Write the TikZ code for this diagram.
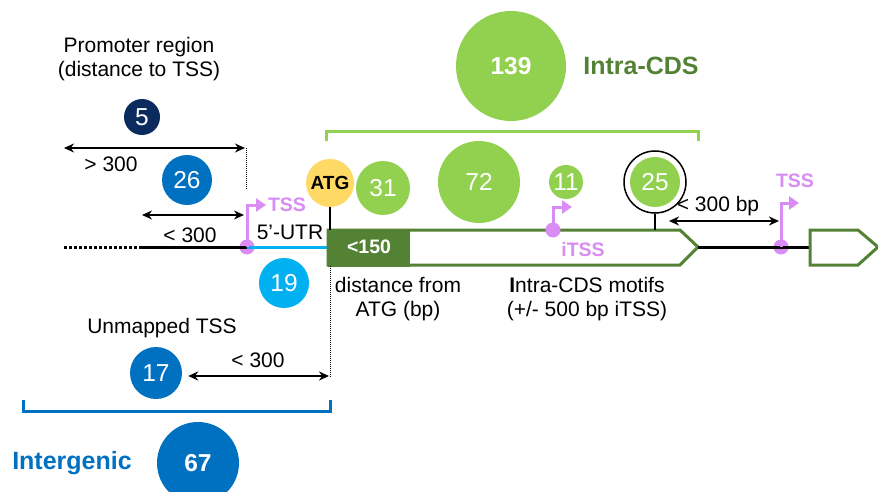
\documentclass[tikz,border=0pt]{standalone}
\usepackage{fontspec}
\setmainfont{Liberation Sans}
\usetikzlibrary{arrows.meta, positioning}

\definecolor{navy}{HTML}{0B2A5E}
\definecolor{midblue}{HTML}{0070C0}
\definecolor{skyblue}{HTML}{00B0F0}
\definecolor{leafgreen}{HTML}{92D050}
\definecolor{darkgreen}{HTML}{548235}
\definecolor{tsspink}{HTML}{D88CF4}
\definecolor{atgyellow}{HTML}{FFD966}

\tikzset{
  bubble/.style={circle, fill=#1, text=white, inner sep=0pt, font=\fontsize{24.5}{24}\selectfont},
  txt/.style={font=\fontsize{21}{24}\selectfont, align=center, inner sep=0pt},
  bigtxt/.style={font=\bfseries\fontsize{25}{25}\selectfont, inner sep=0pt},
  tsslbl/.style={text=tsspink, font=\bfseries\fontsize{19.5}{19}\selectfont, inner sep=0pt},
  dim/.style={{Stealth[length=10pt,width=9pt]}-{Stealth[length=10pt,width=9pt]}, line width=1.6pt},
  tssarrow/.style={tsspink, line width=3pt, -{Triangle[length=10pt,width=13pt]}},
  tssdot/.style={circle, fill=tsspink, minimum size=15pt, inner sep=0pt},
  guide/.style={densely dotted, line width=1pt},
  gene/.style={darkgreen, line width=3pt, fill=white, line join=miter},
}

\begin{document}
\begin{tikzpicture}[x=1pt, y=-1pt]
    \useasboundingbox (0,0) rectangle (878,492);

        % Promoter side
        \node[txt] at (139,59) (prom) {Promoter region\\(distance to TSS)};
        \node[bubble=navy, minimum size=36pt] at (142,117) (n5) {5};
        \node[bubble=midblue, minimum size=50pt] at (187,180) (n26) {26};
        \node[bubble=skyblue, minimum size=50pt] at (284,283) (n19) {19};

        % Genomic line
        \draw[line width=3pt, dotted] (64,247) -- (140,247);
        \coordinate (lineL) at (140,247);
        \node[tssdot] at (247,247) (tss1) {};
        \coordinate (cdsL) at (328,247);
        \draw[line width=3pt] (lineL) -- (tss1.center);
        \draw[skyblue, line width=3pt] (tss1.center) -- (cdsL);

        % Genes
        \draw[gene] (328,230) -- (680,230) -- (698,247) -- (680,265) -- (328,265) -- cycle;
        \fill[darkgreen] (328,228.5) rectangle (410,266.5);
        \node[font=\bfseries\fontsize{19.5}{19}\selectfont, text=white] at (369,247) (lt150) {<150};
        \coordinate (cdsTip) at (698,247);
        \coordinate (gene2L) at (810,247);
        \node[tssdot] at (781,247) (tss2) {};
        \draw[line width=3pt] (cdsTip) -- (tss2.center) -- (gene2L);
        \draw[gene] (810,230) -- (858,230) -- (878,247) -- (858,265) -- (810,265) -- cycle;

        % TSS marks
        \draw[tssarrow] (tss1.center) |- (266,205);
        \node[tsslbl] at (287,205) (tss1lbl) {TSS};
        \draw[tssarrow] (tss2.center) |- (799,203);
        \node[tsslbl] at (795,181) (tss2lbl) {TSS};
        \node[tssdot] at (553,230) (itss) {};
        \draw[tssarrow] (itss.center) |- (572,207);
        \node[tsslbl] at (583,250) (itsslbl) {iTSS};
        \node[txt] at (290,232) (utr) {5’-UTR};

        % ATG and intra-CDS counts
        \node[circle, fill=atgyellow, minimum size=48pt, inner sep=0pt,
              font=\bfseries\fontsize{19}{19}\selectfont] at (330,183) (atg) {ATG};
        \coordinate (atgFoot) at (330,230);
        \draw[line width=2.5pt] (atg.south) -- (atgFoot);
        \node[bubble=leafgreen, minimum size=54pt] at (383,188) (n31) {31};
        \node[bubble=leafgreen, minimum size=82pt] at (479,182) (n72) {72};
        \node[bubble=leafgreen, minimum size=34pt] at (566,182) (n11) {11};
        \node[circle, draw, line width=1.5pt, minimum size=62pt] at (655,182) (ring) {};
        \node[bubble=leafgreen, minimum size=50pt] at (655,182) (n25) {25};
        \coordinate (ringFoot) at (655,230);
        \draw[line width=1.2pt] (ring.south) -- (ringFoot);

        \node[bubble=leafgreen, minimum size=110pt, font=\bfseries\fontsize{24.5}{24}\selectfont] at (511,66) (n139) {139};
        \node[bigtxt, text=darkgreen] at (641,66) (intra) {Intra-CDS};
        \draw[leafgreen, line width=3pt] (326,141) -- (326,132) -- (698,132) -- (698,141);

        % Distances
        \coordinate (gt1) at (64,148);
        \coordinate (gt2) at (245,148);
        \draw[dim] (gt1) -- (gt2);
        \draw[guide] (246,148) -- (246,190);
        \node[txt] at (111,164) (gtlbl) {> 300};
        \coordinate (lt1) at (142,215);
        \coordinate (lt2) at (244,215);
        \draw[dim] (lt1) -- (lt2);
        \node[txt] at (190,235) (ltlbl) {< 300};
        \coordinate (bp1) at (669,221);
        \coordinate (bp2) at (779,221);
        \draw[dim] (bp1) -- (bp2);
        \node[txt] at (718,206) (bplbl) {< 300 bp};

        \node[txt] at (398,299) (atgdist) {distance from\\ATG (bp)};
        \node[txt] at (587,299) (motifs) {\textbf{I}ntra-CDS motifs\\(+/- 500 bp iTSS)};
        \draw[guide] (330,266) -- (330,378);

        % Unmapped and intergenic
        \node[txt] at (162,328) (unmap) {Unmapped TSS};
        \node[bubble=midblue, minimum size=52pt] at (156,373) (n17) {17};
        \coordinate (um2) at (329,376);
        \draw[dim] (n17.east) ++(6,3) coordinate (um1) (um1) -- (um2);
        \node[txt] at (258,360) (umlbl) {< 300};
        \draw[midblue, line width=3pt] (23,400) -- (23,411) -- (330,411) -- (330,400);
        \node[bubble=midblue, minimum size=82pt, font=\bfseries\fontsize{24.5}{24}\selectfont] at (198,463) (n67) {67};
        \node[bigtxt, text=midblue] at (72,463) (inter) {Intergenic};
\end{tikzpicture}
\end{document}
